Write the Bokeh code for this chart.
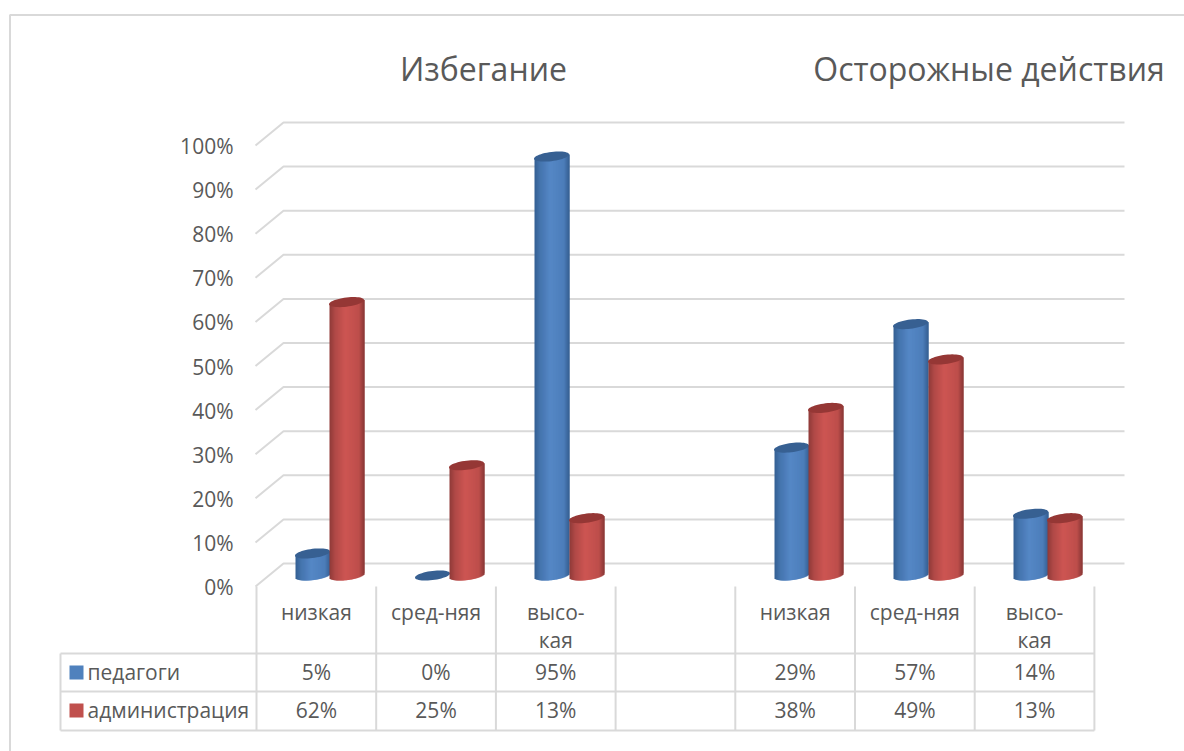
from bokeh.plotting import figure
from bokeh.models import Range1d
from bokeh.core.properties import value
from bokeh.embed import file_html
from bokeh.resources import INLINE
import math

# ---- data
categories = ["низкая", "сред-няя", "высо-кая", "", "низкая", "сред-няя", "высо-кая"]
pedagogi = [5, 0, 95, None, 29, 57, 14]
administracia = [62, 25, 13, None, 38, 49, 13]
y_ticks = [0, 10, 20, 30, 40, 50, 60, 70, 80, 90, 100]
series_names = ["педагоги", "администрация"]
titles = ["Избегание", "Осторожные действия"]

# ---- geometry (figure pixels)
W, H = 1184, 751
CELL = 119.7
X0 = 256.0           # x of category 0 left edge
BASE = 575.0         # y of value 0 at the bars
PPV = 4.41           # pixels per percent
FONT = "Open Sans"
GRID = "#D9D9D9"
TXT = "#595959"


def sx(px):          # pixel x -> category units
    return (px - X0) / CELL


def sy(px):          # pixel y -> value units
    return (BASE - px) / PPV


p = figure(width=W, height=H, output_backend="svg", toolbar_location=None,
           x_range=Range1d(sx(0), sx(W)), y_range=Range1d(sy(H), sy(0)),
           min_border=0, outline_line_color=None, border_fill_color="white")
p.xaxis.visible = False
p.yaxis.visible = False
p.grid.visible = False


def lines(xs, ys, width=2.0):
    p.multi_line(xs, ys, line_color=GRID, line_width=width)


# chart frame
lines([[sx(9.5), sx(9.5), sx(W)]], [[sy(H), sy(14.5), sy(14.5)]])

# wall grid: the wall lies behind and above the bars' base
DEPTH_X, DEPTH_Y = 28.0, 23.0
WALL_RISE = 12 / PPV
x_front, x_back, x_end = sx(255), sx(255 + DEPTH_X), sx(1124)
gx, gy = [], []
for t in y_ticks:
    back = t + WALL_RISE
    gx.append([x_front, x_back, x_end])
    gy.append([back - DEPTH_Y / PPV, back, back])
lines(gx, gy)

# table
row_lines = [653, 691, 730]
n = len(categories)
lines([[sx(60), n] for _ in row_lines], [[sy(r), sy(r)] for r in row_lines])
lines([[sx(60), sx(60)]], [[sy(653), sy(730)]])
edges = list(range(n + 1))
lines([[e, e] for e in edges], [[sy(586), sy(730)] for _ in edges])

# cylinders
BAR_W = 35.0
A = BAR_W / 2
B = 4.6
SLOPE = 0.12
SHIFT = -4.0   # blue centre offset from category centre (px)


def ramp(stops, u):
    for (u0, c0), (u1, c1) in zip(stops, stops[1:]):
        if u <= u1:
            f = (u - u0) / (u1 - u0)
            return "#%02x%02x%02x" % tuple(round(a + (b - a) * f) for a, b in zip(c0, c1))
    return "#%02x%02x%02x" % stops[-1][1]


BLUE = [(0, (0x33, 0x5e, 0x92)), (.16, (0x44, 0x74, 0xad)), (.45, (0x55, 0x87, 0xc6)),
        (.84, (0x4c, 0x7d, 0xb9)), (1, (0x34, 0x5d, 0x8f))]
RED = [(0, (0x8e, 0x3a, 0x38)), (.16, (0xb0, 0x49, 0x47)), (.45, (0xcd, 0x55, 0x52)),
       (.84, (0xbd, 0x4e, 0x4b)), (1, (0x86, 0x37, 0x35))]
TOP_BLUE, TOP_RED = "#376092", "#953735"


def front_curve(x):  # lower half of the tilted ellipse, relative to its centre
    r = max(0.0, 1 - (x / A) ** 2)
    return B * math.sqrt(r) - SLOPE * x


def cylinder(i, v, off, stops, top):
    cx = round(X0 + CELL * (i + 0.5) + off)
    top_y = BASE - v * PPV
    xs, ys, cs = [], [], []
    if v > 0:
        for s in range(int(BAR_W)):
            x0 = s - A + 0.5
            x1 = x0 + (2 if s < int(BAR_W) - 1 else 1)
            xm = x0 + 0.5
            bot = BASE + front_curve(xm)
            up = top_y - SLOPE * xm
            xs.append([sx(cx + x0), sx(cx + x1), sx(cx + x1), sx(cx + x0)])
            ys.append([sy(bot), sy(bot), sy(up), sy(up)])
            cs.append(ramp(stops, (s + .5) / BAR_W))
        p.patches(xs, ys, fill_color=cs, line_color=None)
    ex = [A * math.cos(2 * math.pi * k / 48) for k in range(48)]
    ey = [B * math.sin(2 * math.pi * k / 48) for k in range(48)]
    p.patch([sx(cx + a) for a in ex],
            [sy(top_y + b - SLOPE * a) for a, b in zip(ex, ey)],
            fill_color=top, line_color=None)


for i in range(n):
    if pedagogi[i] is not None:
        cylinder(i, pedagogi[i], SHIFT, BLUE, TOP_BLUE)
    if administracia[i] is not None:
        cylinder(i, administracia[i], SHIFT + BAR_W - 0.6, RED, TOP_RED)


def text(xs, ys, labels, size, align="center"):
    p.text(xs, ys, text=labels, text_font=value(FONT), text_font_size=f"{size}px",
           text_color=TXT, text_align=align, text_baseline="middle")


# titles
text([sx(483), sx(988.5)], [sy(68), sy(68)], titles, 32)

# y tick labels
text([sx(233)] * len(y_ticks), [t + sy(586.5) for t in y_ticks],
     [f"{t}%" for t in y_ticks], 21, "right")

# category labels
cx, cy, cl = [], [], []
for i, c in enumerate(categories):
    if c.startswith("высо"):
        a, b = c.split("-")
        cx += [i + .5, i + .5]
        cy += [sy(611), sy(639)]
        cl += [a + "-", b]
    elif c:
        cx.append(i + .5)
        cy.append(sy(611))
        cl.append(c)
text(cx, cy, cl, 21)

# data table rows
for row_y, vals in ((671, pedagogi), (709, administracia)):
    idx = [i for i, v in enumerate(vals) if v is not None]
    text([i + .5 for i in idx], [sy(row_y)] * len(idx), [f"{vals[i]}%" for i in idx], 21)

# legend keys in the table
for row_y, col, name in ((671, "#4F81BD", series_names[0]), (709, "#C0504D", series_names[1])):
    p.quad(left=[sx(69)], right=[sx(83)], top=[sy(row_y - 6)], bottom=[sy(row_y + 8)],
           fill_color=col, line_color=None)
    text([sx(87)], [sy(row_y)], [name], 21, "left")

open("out.html", "w").write(file_html(p, INLINE))
